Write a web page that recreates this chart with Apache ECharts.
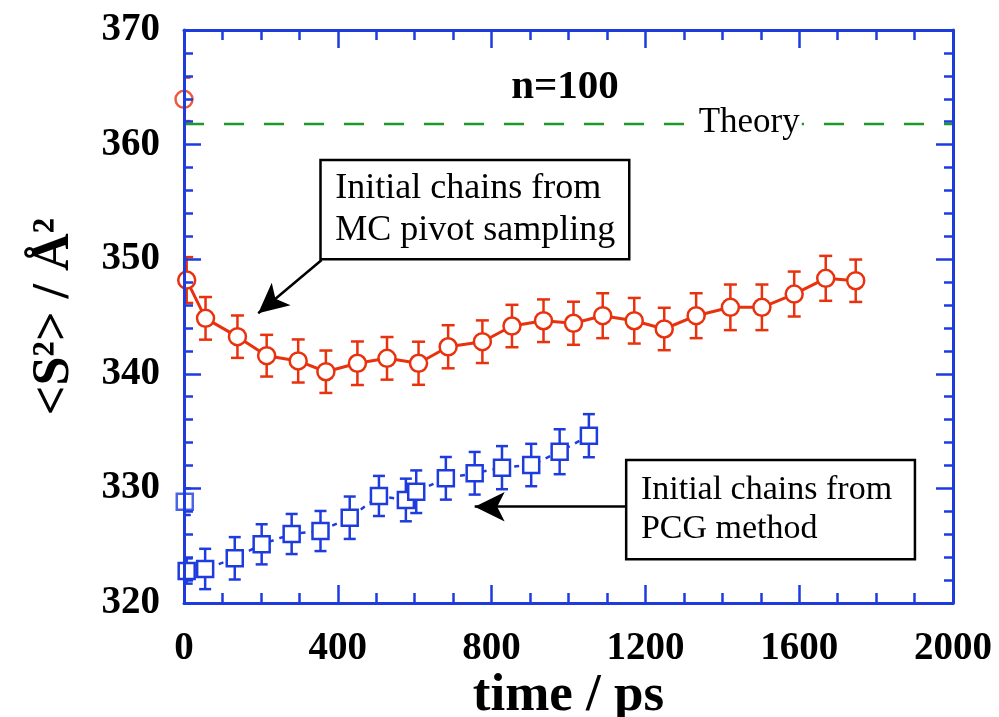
<!DOCTYPE html>
<html>
<head>
<meta charset="utf-8">
<script src="https://cdn.jsdelivr.net/npm/echarts@6/dist/echarts.min.js"></script>
<style>
  html, body { margin: 0; padding: 0; background: #fff; }
  #chart { width: 999px; height: 717px; }
</style>
</head>
<body>
<div id="chart"></div>
<script>
// MC pivot sampling start (red circles)
const redT = [0, 7, 56, 139, 215, 297, 369, 451, 528, 610, 687, 776, 853, 935, 1013, 1089, 1171, 1249, 1332, 1421, 1503, 1587, 1669, 1747];
const redS = [363.95, 348.18, 344.84, 343.24, 341.58, 341.12, 340.18, 340.92, 341.35, 340.92, 342.36, 342.80, 344.17, 344.63, 344.41, 345.07, 344.63, 343.91, 345.07, 345.80, 345.80, 346.96, 348.33, 348.12];
const redErr = [1.9, 2.0, 1.86, 1.85, 1.82, 1.88, 1.85, 1.9, 1.86, 1.88, 1.88, 1.86, 1.85, 1.86, 1.88, 1.96, 1.99, 1.85, 1.96, 1.99, 1.99, 1.96, 1.96, 1.85];

// PCG method start (blue squares)
const blueT = [2, 7, 55, 132, 202, 280, 355, 431, 507, 577, 604, 681, 756, 827, 903, 977, 1053];
const blueS = [328.84, 322.79, 322.97, 323.90, 325.12, 326.02, 326.28, 327.44, 329.34, 328.99, 329.71, 330.88, 331.32, 331.81, 332.04, 333.20, 334.60];
const blueErr = [1.16, 1.1, 1.76, 1.85, 1.75, 1.75, 1.75, 1.85, 1.75, 1.86, 1.86, 1.86, 1.86, 1.88, 1.85, 1.96, 1.88];

const theory = 361.86;
const xTicks = { min: 0, max: 2000, interval: 400 };
const yTicks = { min: 320, max: 370, interval: 10 };

const RED = '#e8320e', BLUE = '#1e3cde', GREEN = '#1f9a2a';
const SERIF = '"Liberation Serif", "Times New Roman", serif';

const chart = echarts.init(document.getElementById('chart'));

const pts = (t, s) => t.map((x, i) => [x, s[i]]);

function errorBars(t, s, e, color, cap) {
    return {
        type: 'custom',
        clip: true,
        z: 1,
        silent: true,
        data: t.map((x, i) => [x, s[i] - e[i], s[i] + e[i]]),
        encode: { x: 0, y: [1, 2] },
        renderItem(params, api) {
            const lo = api.coord([api.value(0), api.value(1)]);
            const hi = api.coord([api.value(0), api.value(2)]);
            const st = { stroke: color, lineWidth: 2.5 };
            const w = cap / 2;
            return {
                type: 'group',
                children: [
                    { type: 'line', shape: { x1: lo[0], y1: lo[1], x2: hi[0], y2: hi[1] }, style: st },
                    { type: 'line', shape: { x1: lo[0] - w, y1: lo[1], x2: lo[0] + w, y2: lo[1] }, style: st },
                    { type: 'line', shape: { x1: hi[0] - w, y1: hi[1], x2: hi[0] + w, y2: hi[1] }, style: st }
                ]
            };
        }
    };
}

function xAx(pos) {
    return {
        type: 'value', position: pos, ...xTicks, z: 5,
        axisLine: { show: true, onZero: false, lineStyle: { color: BLUE, width: 3 } },
        axisTick: { show: true, inside: true, length: 18, lineStyle: { color: BLUE, width: 2.5 } },
        minorTick: { show: true, splitNumber: 4, length: 10, lineStyle: { color: BLUE, width: 2.5 } },
        splitLine: { show: false },
        axisLabel: { show: pos === 'bottom', margin: 26, color: '#000', fontFamily: SERIF, fontWeight: 'bold',
                     fontSize: 39, formatter: v => String(v) }
    };
}
function yAx(pos) {
    return {
        type: 'value', position: pos, ...yTicks, z: 5,
        axisLine: { show: true, onZero: false, lineStyle: { color: BLUE, width: 3 } },
        axisTick: { show: true, inside: true, length: 17, lineStyle: { color: BLUE, width: 2.5 } },
        minorTick: { show: true, splitNumber: 5, length: 9, lineStyle: { color: BLUE, width: 2.5 } },
        splitLine: { show: false },
        axisLabel: { show: pos === 'left', margin: 24, color: '#000', fontFamily: SERIF, fontWeight: 'bold',
                     fontSize: 39, formatter: v => String(v) }
    };
}

const xBottom = xAx('bottom');
xBottom.name = 'time / ps';
xBottom.nameLocation = 'middle';
xBottom.nameGap = 67;
xBottom.nameMoveOverlap = false;
xBottom.nameTextStyle = { color: '#000', fontFamily: SERIF, fontWeight: 'bold', fontSize: 53 };

const yLeft = yAx('left');
yLeft.name = '<S²> / Å²';
yLeft.nameLocation = 'middle';
yLeft.nameGap = 103;
yLeft.nameMoveOverlap = false;
yLeft.nameTextStyle = { color: '#000', fontFamily: SERIF, fontWeight: 'bold', fontSize: 52 };

const boxLabel = (size) => ({
    show: true, position: 'insideLeft', distance: 16, color: '#000',
    fontFamily: SERIF, fontSize: size, lineHeight: size * 1.17
});

chart.setOption({
    animation: false,
    grid: { left: 184, right: 46, top: 30, bottom: 114, containLabel: false, outerBoundsMode: 'none' },
    graphic: [{
        type: 'text', x: 565, y: 67, z: 10,
        style: { text: 'n=100', textAlign: 'center', textVerticalAlign: 'top', fill: '#000',
                 font: 'bold 41px ' + SERIF }
    }],
    xAxis: [xBottom, xAx('top')],
    yAxis: [yLeft, yAx('right')],
    series: [
        errorBars(redT, redS, redErr, RED, 13),
        errorBars(blueT, blueS, blueErr, BLUE, 12),
        {
            type: 'line',
            data: pts(redT.slice(1), redS.slice(1)),
            symbol: 'circle', symbolSize: 17, showAllSymbol: true, z: 3,
            itemStyle: { color: '#fff', borderColor: RED, borderWidth: 2.5 },
            lineStyle: { color: RED, width: 3 },
            markLine: {
                silent: true, symbol: 'none', label: { show: false },
                lineStyle: { color: GREEN, width: 2.3, type: [20, 20] },
                data: [{ yAxis: theory }]
            },
            markPoint: {
                silent: true, symbol: 'rect', symbolSize: 0,
                data: [{ coord: [1470, theory], name: 'Theory' }],
                label: { show: true, position: 'inside', formatter: '{b}', color: '#000', backgroundColor: '#fff',
                         padding: [0, 2], fontFamily: SERIF, fontSize: 35 }
            },
            markArea: {
                silent: true,
                itemStyle: { color: '#fff', borderColor: '#000', borderWidth: 2.5 },
                data: [
                    [{ name: 'Initial chains from\nMC pivot sampling', coord: [355, 358.66], label: boxLabel(36) },
                     { coord: [1158, 350.0] }],
                    [{ name: 'Initial chains from\nPCG method', coord: [1150, 332.48], label: boxLabel(34) },
                     { coord: [1901, 323.81] }]
                ]
            }
        },
        {
            type: 'scatter',
            data: pts(redT.slice(0, 1), redS.slice(0, 1)),
            symbol: 'circle', symbolSize: 17, z: 3,
            itemStyle: { color: '#fff', borderColor: RED, borderWidth: 2.5 }
        },
        {
            type: 'line',
            data: pts(blueT.slice(1), blueS.slice(1)),
            symbol: 'rect', symbolSize: 16, showAllSymbol: true, z: 3,
            itemStyle: { color: '#fff', borderColor: BLUE, borderWidth: 2.5 },
            lineStyle: { color: BLUE, width: 2.5, type: [5, 6] },
            markLine: {
                silent: true, symbol: ['none', 'arrow'], symbolSize: [22, 30], label: { show: false },
                lineStyle: { color: '#000', width: 2.5, type: 'solid' },
                data: [
                    [{ coord: [358, 349.93] }, { coord: [193, 345.28] }],
                    [{ coord: [1150, 328.4] }, { coord: [756, 328.4] }]
                ]
            }
        },
        {
            type: 'scatter',
            data: pts(blueT.slice(0, 1), blueS.slice(0, 1)),
            symbol: 'rect', symbolSize: 16, z: 3,
            itemStyle: { color: '#fff', borderColor: BLUE, borderWidth: 2.5 }
        }
    ]
});
</script>
</body>
</html>
